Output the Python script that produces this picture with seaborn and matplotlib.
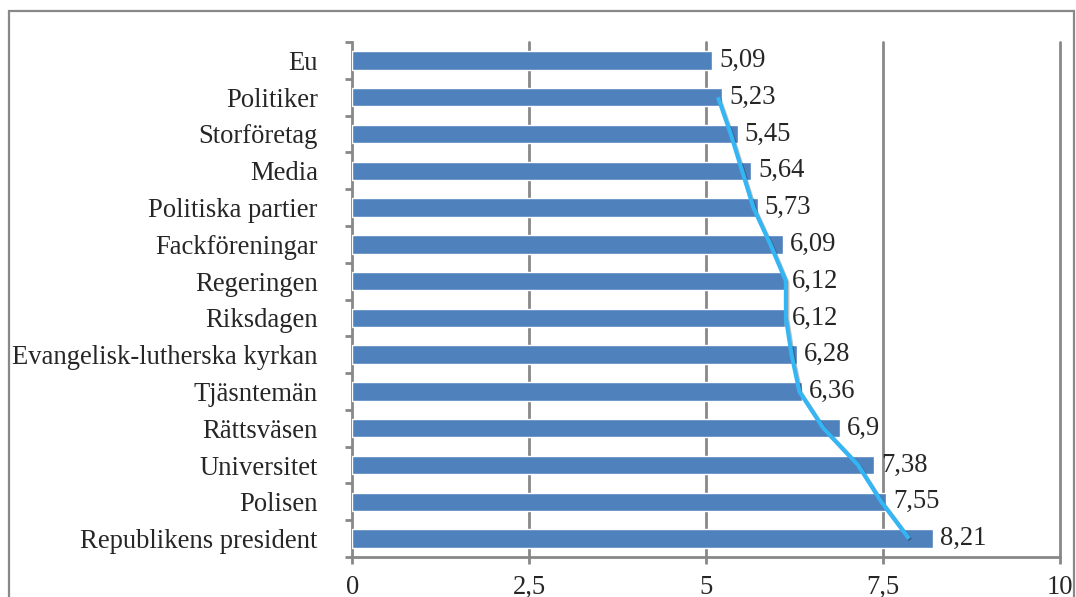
import numpy as np
import seaborn as sns
import matplotlib.pyplot as plt
from matplotlib.patches import Rectangle
from matplotlib.ticker import FixedLocator, FuncFormatter
import matplotlib.patheffects as pe

# categories top to bottom
categories = ["Eu", "Politiker", "Storföretag", "Media", "Politiska partier",
              "Fackföreningar", "Regeringen", "Riksdagen",
              "Evangelisk-lutherska kyrkan", "Tjäsntemän", "Rättsväsen",
              "Universitet", "Polisen", "Republikens president"]
values = [5.09, 5.23, 5.45, 5.64, 5.73, 6.09, 6.12, 6.12, 6.28, 6.36,
          6.9, 7.38, 7.55, 8.21]

# hand drawn trend line (Politiker .. Republikens president)
trend_cats = categories[1:]
trend_vals = [5.17, 5.35, 5.51, 5.67, 5.91, 6.13, 6.13, 6.21, 6.32,
              6.66, 7.15, 7.48, 7.87]

xticks = [0, 2.5, 5, 7.5, 10]

sns.set_style("white")
plt.rcParams['font.family'] = ['Liberation Serif', 'DejaVu Serif']

grey = "#888888"
fs = 19.2
fig = plt.figure(figsize=(10.76, 5.97), dpi=100)
ax = fig.add_axes([0.3276, 0.067, 0.6571, 0.8626])

sns.barplot(x=values, y=categories, orient="h", color="#4F81BD",
            width=0.5, saturation=1, ax=ax, zorder=3)

# trend line
ypos = [categories.index(c) for c in trend_cats]
ax.plot(trend_vals, ypos, color="#35B6F4", lw=3, zorder=4,
        solid_capstyle="butt",
        path_effects=[pe.SimpleLineShadow(offset=(1, -1), alpha=0.25),
                      pe.Normal()])

labels = [f"{v:g}".replace(".", ",") for v in values]
ax.bar_label(ax.containers[0], labels=labels, padding=5, fontsize=fs)

ax.set_xlim(0, 10)
ax.set_ylim(len(categories) - 0.5, -0.5)
ax.set_xlabel("")
ax.set_ylabel("")

ax.xaxis.set_major_locator(FixedLocator(xticks))
ax.xaxis.set_major_formatter(FuncFormatter(lambda v, p: f"{v:g}".replace(".", ",")))
for x in xticks[1:]:
    ax.axvline(x, color=grey, lw=2, zorder=1, clip_on=False)

ax.yaxis.set_minor_locator(FixedLocator(np.arange(-0.5, len(categories), 1)))
ax.tick_params(axis="y", which="major", length=0, pad=25, labelsize=fs)
ax.tick_params(axis="y", which="minor", length=5, width=2, color=grey, left=True)
ax.tick_params(axis="x", which="major", length=5, width=2, color=grey,
               bottom=True, pad=8, labelsize=fs)

for s in ["top", "right"]:
    ax.spines[s].set_visible(False)
for s in ["left", "bottom"]:
    ax.spines[s].set_color(grey)
    ax.spines[s].set_linewidth(2)

# outer chart frame (cut off at the bottom)
fig.patches.append(Rectangle((0.0088, -0.05), 0.9892, 1.0316, fill=False,
                             edgecolor=grey, lw=1.6, transform=fig.transFigure,
                             clip_on=False))

plt.savefig("out.png", dpi=100)
